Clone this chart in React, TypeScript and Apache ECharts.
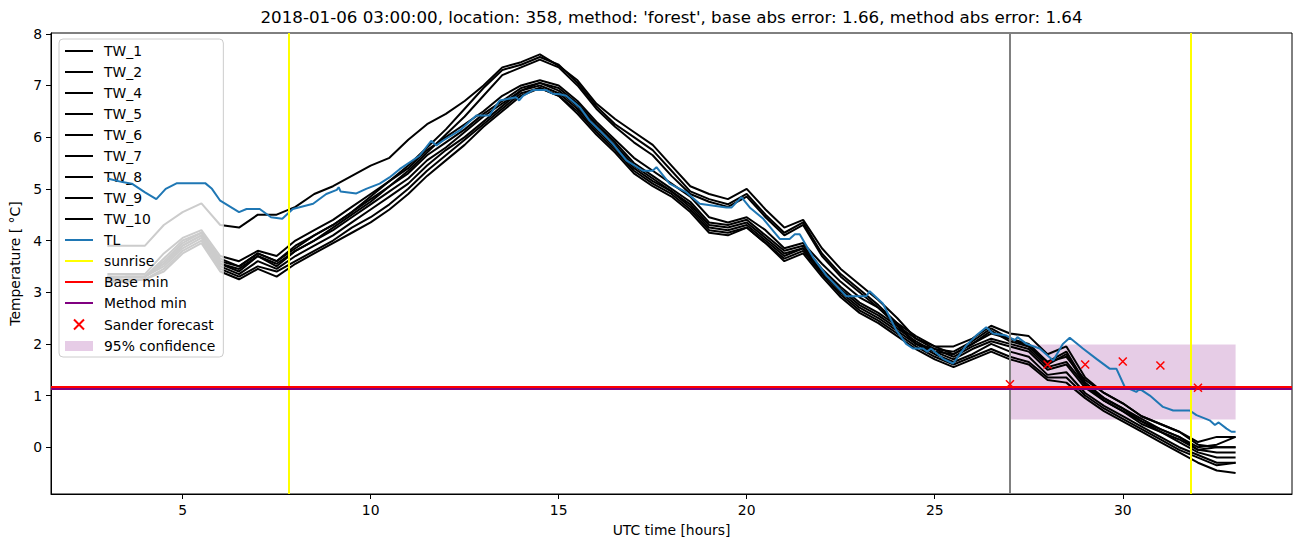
import React, { useEffect, useRef } from "react";
import * as echarts from "echarts";

const FONT = "DejaVu Sans";

const TITLE = "2018-01-06 03:00:00, location: 358, method: 'forest', base abs error: 1.66, method abs error: 1.64";

const hours = [
  3.0, 3.5, 4.0, 4.5, 5.0, 5.5, 6.0, 6.5, 7.0, 7.5, 8.0, 8.5, 9.0, 9.5, 10.0, 10.5,
  11.0, 11.5, 12.0, 12.5, 13.0, 13.5, 14.0, 14.5, 15.0, 15.5, 16.0, 16.5, 17.0, 17.5,
  18.0, 18.5, 19.0, 19.5, 20.0, 20.5, 21.0, 21.5, 22.0, 22.5, 23.0, 23.5, 24.0, 24.5,
  25.0, 25.5, 26.0, 26.5, 27.0, 27.5, 28.0, 28.5, 29.0, 29.5, 30.0, 30.5, 31.0, 31.5,
  32.0, 32.5, 33.0,
];

const tw1 = [
  3.9, 3.9, 3.9, 4.3, 4.55, 4.72, 4.3, 4.25, 4.5, 4.5, 4.65, 4.9, 5.05, 5.25, 5.45, 5.6,
  5.95, 6.25, 6.45, 6.7, 7.0, 7.35, 7.45, 7.6, 7.38, 7.1, 6.65, 6.35, 6.1, 5.85,
  5.45, 5.05, 4.9, 4.8, 5.0, 4.6, 4.25, 4.4, 3.85, 3.45, 3.15, 2.85, 2.5, 2.1,
  1.95, 1.95, 2.1, 2.35, 2.2, 2.15, 1.8, 1.95, 1.35, 1.05, 0.85, 0.6, 0.45, 0.3,
  0.1, 0.2, 0.2,
];
const tw2 = [
  3.35, 3.35, 3.35, 3.75, 4.05, 4.2, 3.7, 3.6, 3.8, 3.7, 4.0, 4.2, 4.4, 4.65, 4.9, 5.15,
  5.4, 5.75, 6.0, 6.25, 6.5, 6.8, 7.0, 7.1, 7.0, 6.7, 6.3, 5.95, 5.6, 5.35,
  5.1, 4.85, 4.45, 4.35, 4.45, 4.2, 3.85, 3.95, 3.55, 3.2, 2.9, 2.7, 2.4, 2.15,
  1.95, 1.8, 2.0, 2.2, 2.1, 1.95, 1.65, 1.75, 1.3, 1.05, 0.85, 0.6, 0.45, 0.3,
  0.05, 0.0, 0.0,
];
const tw4 = [
  3.3, 3.3, 3.3, 3.6, 3.95, 4.15, 3.65, 3.5, 3.75, 3.6, 3.85, 4.1, 4.3, 4.55, 4.85, 5.15,
  5.45, 5.8, 6.15, 6.55, 6.95, 7.3, 7.4, 7.55, 7.4, 7.05, 6.6, 6.25, 6.0, 5.75,
  5.35, 4.95, 4.8, 4.7, 4.9, 4.5, 4.15, 4.35, 3.75, 3.35, 3.05, 2.75, 2.4, 2.0,
  1.9, 1.85, 2.05, 2.3, 2.1, 2.0, 1.65, 1.85, 1.25, 0.95, 0.75, 0.5, 0.35, 0.2,
  0.0, 0.05, 0.2,
];
const tw5 = [
  3.3, 3.3, 3.3, 3.65, 4.0, 4.15, 3.6, 3.5, 3.75, 3.6, 3.9, 4.1, 4.3, 4.55, 4.8, 5.05,
  5.3, 5.65, 5.9, 6.15, 6.45, 6.7, 6.95, 7.05, 6.95, 6.65, 6.25, 5.9, 5.5, 5.25,
  5.0, 4.75, 4.35, 4.3, 4.4, 4.1, 3.8, 3.9, 3.45, 3.1, 2.8, 2.6, 2.35, 2.1,
  1.9, 1.75, 1.95, 2.1, 2.0, 1.9, 1.55, 1.65, 1.2, 0.95, 0.75, 0.55, 0.35, 0.2,
  -0.05, -0.1, -0.1,
];
const tw6 = [
  3.3, 3.3, 3.3, 3.55, 3.9, 4.1, 3.55, 3.4, 3.7, 3.5, 3.8, 4.0, 4.2, 4.45, 4.7, 4.95,
  5.2, 5.55, 5.8, 6.1, 6.4, 6.65, 6.9, 7.05, 6.9, 6.6, 6.2, 5.85, 5.45, 5.2,
  4.95, 4.7, 4.3, 4.25, 4.35, 4.05, 3.75, 3.85, 3.4, 3.05, 2.75, 2.55, 2.3, 2.05,
  1.85, 1.7, 1.9, 2.05, 1.95, 1.85, 1.5, 1.6, 1.15, 0.9, 0.7, 0.5, 0.3, 0.1,
  -0.1, -0.2, -0.2,
];
const tw7 = [
  3.25, 3.3, 3.3, 3.55, 3.9, 4.1, 3.55, 3.45, 3.7, 3.55, 3.8, 4.0, 4.25, 4.5, 4.75, 5.05,
  5.35, 5.7, 6.05, 6.4, 6.8, 7.2, 7.35, 7.5, 7.35, 7.0, 6.55, 6.2, 5.9, 5.65,
  5.25, 4.9, 4.75, 4.65, 4.85, 4.45, 4.1, 4.3, 3.7, 3.3, 3.0, 2.7, 2.35, 2.0,
  1.85, 1.8, 2.0, 2.25, 2.05, 1.95, 1.6, 1.8, 1.2, 0.9, 0.7, 0.45, 0.3, 0.15,
  -0.05, 0.0, 0.0,
];
const tw8 = [
  3.25, 3.3, 3.3, 3.5, 3.85, 4.05, 3.5, 3.35, 3.6, 3.45, 3.7, 3.9, 4.1, 4.35, 4.6, 4.85,
  5.1, 5.45, 5.75, 6.0, 6.3, 6.6, 6.9, 7.0, 6.85, 6.55, 6.15, 5.8, 5.4, 5.15,
  4.95, 4.65, 4.25, 4.2, 4.3, 4.0, 3.7, 3.85, 3.4, 3.0, 2.7, 2.5, 2.25, 2.0,
  1.8, 1.65, 1.8, 2.0, 1.85, 1.75, 1.4, 1.45, 1.05, 0.8, 0.6, 0.4, 0.2, 0.0,
  -0.15, -0.3, -0.3,
];
const tw9 = [
  3.2, 3.25, 3.25, 3.45, 3.8, 4.0, 3.45, 3.3, 3.5, 3.4, 3.6, 3.8, 4.0, 4.25, 4.45, 4.7,
  5.0, 5.35, 5.65, 5.95, 6.25, 6.55, 6.85, 6.95, 6.8, 6.5, 6.1, 5.75, 5.35, 5.1,
  4.9, 4.6, 4.2, 4.15, 4.25, 3.95, 3.65, 3.8, 3.35, 2.95, 2.65, 2.45, 2.2, 1.95,
  1.75, 1.6, 1.75, 1.9, 1.75, 1.65, 1.35, 1.35, 1.0, 0.75, 0.55, 0.35, 0.15, -0.05,
  -0.2, -0.35, -0.3,
];
const tw10 = [
  3.2, 3.2, 3.25, 3.4, 3.75, 3.95, 3.4, 3.25, 3.45, 3.3, 3.55, 3.75, 3.95, 4.15, 4.35, 4.6,
  4.9, 5.25, 5.55, 5.85, 6.2, 6.5, 6.8, 6.95, 6.8, 6.45, 6.05, 5.7, 5.3, 5.05,
  4.85, 4.55, 4.15, 4.1, 4.25, 3.95, 3.6, 3.75, 3.3, 2.9, 2.6, 2.4, 2.15, 1.9,
  1.7, 1.55, 1.7, 1.85, 1.7, 1.6, 1.3, 1.25, 0.95, 0.7, 0.5, 0.3, 0.1, -0.1,
  -0.3, -0.45, -0.5,
];

const twNames = ["TW_1", "TW_2", "TW_4", "TW_5", "TW_6", "TW_7", "TW_8", "TW_9", "TW_10"];
const twValues = [tw1, tw2, tw4, tw5, tw6, tw7, tw8, tw9, tw10];

const tlHours = [
  3.0, 3.4, 3.65, 4.0, 4.3, 4.55, 4.85, 5.6, 5.78, 6.0, 6.5, 6.7, 7.05, 7.35, 7.65, 7.93,
  8.47, 8.82, 9.1, 9.15, 9.2, 9.62, 9.88, 10.24, 10.5, 10.77, 11.3, 11.61, 11.75, 11.92,
  12.37, 12.81, 13.16, 13.43, 13.87, 13.95, 14.05, 14.32, 14.67, 14.84, 15.03, 15.2,
  15.56, 15.82, 16.09, 16.44, 16.8, 17.24, 17.5, 17.6, 17.95, 18.4, 18.75, 19.46, 19.6,
  19.86, 20.08, 20.44, 20.88, 21.14, 21.28, 21.41, 21.76, 22.12, 22.65, 23.18, 23.27,
  23.62, 23.98, 24.24, 24.42, 24.69, 24.8, 24.9, 25.22, 25.49, 25.84, 26.1, 26.37, 26.55,
  26.9, 27.13, 27.2, 27.44, 27.79, 28.15, 28.41, 28.59, 28.94, 29.3, 29.65, 29.83, 30.05,
  30.36, 30.45, 30.72, 31.07, 31.34, 31.78, 31.96, 32.31, 32.45, 32.55, 32.76, 32.89, 33.0,
];
const tlValues = [
  5.2, 5.13, 5.1, 4.93, 4.8, 5.0, 5.11, 5.11, 5.0, 4.77, 4.55, 4.61, 4.61, 4.45, 4.42, 4.61,
  4.71, 4.9, 4.98, 5.03, 4.95, 4.91, 5.0, 5.1, 5.22, 5.38, 5.64, 5.93, 5.84, 5.93,
  6.13, 6.42, 6.42, 6.71, 6.77, 6.71, 6.8, 6.91, 6.91, 6.84, 6.83, 6.8,
  6.58, 6.32, 6.13, 5.87, 5.55, 5.35, 5.35, 5.42, 5.1, 4.93, 4.71, 4.64, 4.64,
  4.84, 4.64, 4.42, 4.03, 4.03, 4.12, 4.12, 3.68, 3.32, 2.92, 2.92, 3.02,
  2.78, 2.26, 2.0, 1.91, 1.91, 1.85, 1.91, 1.71, 1.62, 1.97, 2.16, 2.32, 2.2,
  2.16, 2.07, 2.13, 2.0, 1.91, 1.68, 2.0, 2.12, 1.91, 1.71, 1.52, 1.52, 1.17,
  1.07, 1.13, 1.0, 0.78, 0.71, 0.71, 0.62, 0.52, 0.43, 0.48, 0.36, 0.3, 0.3,
];

const sunriseHours = [7.82, 31.82];
const baseMin = 1.168;
const methodMin = 1.125;
const forecastTime = 27;
const sanderHours = [27, 28, 29, 30, 31, 32];
const sanderValues = [1.22, 1.6, 1.6, 1.66, 1.58, 1.15];
const confidence = { from: 27, to: 33, low: 0.535, high: 1.99 };

const xTicks = [5, 10, 15, 20, 25, 30];
const yTicks = [0, 1, 2, 3, 4, 5, 6, 7, 8];

const X_PATH = "path://M0,0L10,10M10,0L0,10";
const LINE_ICON = "path://M0,0L28,0L28,2L0,2Z";

export default function App() {
  const ref = useRef<HTMLDivElement>(null);

  useEffect(() => {
    document.body.style.margin = "0";
    const chart = echarts.init(ref.current!, undefined, { renderer: "svg" });

    const twSeries = twNames.map((name, k) => ({
      name,
      type: "line",
      data: hours.map((h, i) => [h, twValues[k][i]]),
      symbol: "none",
      lineStyle: { color: "#000000", width: 2 },
      itemStyle: { color: "#000000" },
      z: 3,
    }));

    const axisCommon = {
      axisLine: { show: true, onZero: false, lineStyle: { color: "#000", width: 1 } },
      splitLine: { show: false },
    };

    const lineLegend = (name: string) => ({ name, icon: LINE_ICON });

    chart.setOption({
      animation: false,
      backgroundColor: "#ffffff",
      textStyle: { fontFamily: FONT },
      grid: {
        left: 51,
        right: 10,
        top: 33,
        bottom: 53,
        show: true,
        borderColor: "#000",
        borderWidth: 1,
        backgroundColor: "transparent",
      },
      graphic: [
        {
          type: "text",
          x: 671.5,
          y: 17,
          style: {
            text: TITLE,
            fill: "#000",
            font: `16.7px "${FONT}"`,
            textAlign: "center",
            textVerticalAlign: "middle",
          },
        },
      ],
      xAxis: {
        type: "value",
        min: 1.5,
        max: 34.5,
        ...axisCommon,
        axisTick: { show: true, customValues: xTicks, length: 5, inside: false, lineStyle: { color: "#000" } },
        axisLabel: {
          customValues: xTicks,
          color: "#000",
          fontSize: 13.9,
          fontFamily: FONT,
          margin: 9,
        },
        name: "UTC time [hours]",
        nameLocation: "middle",
        nameGap: 29,
        nameTextStyle: { color: "#000", fontSize: 13.9, fontFamily: FONT },
      },
      yAxis: {
        type: "value",
        min: -0.905,
        max: 8.015,
        ...axisCommon,
        axisTick: { show: true, customValues: yTicks, length: 5, inside: false, lineStyle: { color: "#000" } },
        axisLabel: {
          customValues: yTicks,
          color: "#000",
          fontSize: 13.9,
          fontFamily: FONT,
          margin: 9,
        },
        name: "Temperature [ °C]",
        nameLocation: "middle",
        nameGap: 25,
        nameRotate: 90,
        nameTextStyle: { color: "#000", fontSize: 13.9, fontFamily: FONT },
      },
      legend: {
        orient: "vertical",
        left: 59,
        top: 39,
        itemWidth: 28,
        itemHeight: 10,
        itemGap: 7,
        padding: [5, 8, 4, 6],
        backgroundColor: "rgba(255,255,255,0.8)",
        borderColor: "#cccccc",
        borderWidth: 1,
        borderRadius: 4,
        selectedMode: false,
        textStyle: {
          color: "#000",
          fontSize: 13.9,
          fontFamily: FONT,
          lineHeight: 14,
          padding: [0, 0, 0, 6],
        },
        data: [
          ...twNames.map(lineLegend),
          lineLegend("TL"),
          lineLegend("sunrise"),
          lineLegend("Base min"),
          lineLegend("Method min"),
          { name: "Sander forecast" },
          { name: "95% confidence", icon: "rect" },
        ],
      },
      series: [
        {
          name: "95% confidence",
          type: "line",
          data: [],
          symbol: "none",
          itemStyle: { color: "rgba(128,0,128,0.2)" },
          lineStyle: { color: "rgba(128,0,128,0.2)" },
          z: 1,
          markArea: {
            silent: true,
            itemStyle: { color: "rgba(128,0,128,0.2)" },
            data: [
              [
                { coord: [confidence.from, confidence.low] },
                { coord: [confidence.to, confidence.high] },
              ],
            ],
          },
        },
        ...twSeries,
        {
          name: "TL",
          type: "line",
          data: tlHours.map((h, i) => [h, tlValues[i]]),
          symbol: "none",
          lineStyle: { color: "#1f77b4", width: 2 },
          itemStyle: { color: "#1f77b4" },
          z: 4,
        },
        {
          name: "forecast time",
          type: "line",
          data: [],
          symbol: "none",
          z: 4,
          markLine: {
            silent: true,
            symbol: ["none", "none"],
            label: { show: false },
            lineStyle: { color: "#808080", width: 2, type: "solid" },
            data: [{ xAxis: forecastTime }],
          },
        },
        {
          name: "sunrise",
          type: "line",
          data: [],
          symbol: "none",
          itemStyle: { color: "#ffff00" },
          lineStyle: { color: "#ffff00", width: 2 },
          z: 5,
          markLine: {
            silent: true,
            symbol: ["none", "none"],
            label: { show: false },
            lineStyle: { color: "#ffff00", width: 2, type: "solid" },
            data: sunriseHours.map((h) => ({ xAxis: h })),
          },
        },
        {
          name: "Method min",
          type: "line",
          data: [],
          symbol: "none",
          itemStyle: { color: "#800080" },
          lineStyle: { color: "#800080", width: 2 },
          z: 5,
          markLine: {
            silent: true,
            symbol: ["none", "none"],
            label: { show: false },
            lineStyle: { color: "#800080", width: 2, type: "solid" },
            data: [{ yAxis: methodMin }],
          },
        },
        {
          name: "Base min",
          type: "line",
          data: [],
          symbol: "none",
          itemStyle: { color: "#ff0000" },
          lineStyle: { color: "#ff0000", width: 2 },
          z: 5,
          markLine: {
            silent: true,
            symbol: ["none", "none"],
            label: { show: false },
            lineStyle: { color: "#ff0000", width: 2, type: "solid" },
            data: [{ yAxis: baseMin }],
          },
        },
        {
          name: "Sander forecast",
          type: "scatter",
          data: sanderHours.map((h, i) => [h, sanderValues[i]]),
          symbol: X_PATH,
          symbolSize: 8,
          itemStyle: { color: "none", borderColor: "#ff0000", borderWidth: 1.5, opacity: 1 },
          z: 6,
        },
      ],
    });

    return () => chart.dispose();
  }, []);

  return <div ref={ref} style={{ width: 1302, height: 547 }} />;
}
